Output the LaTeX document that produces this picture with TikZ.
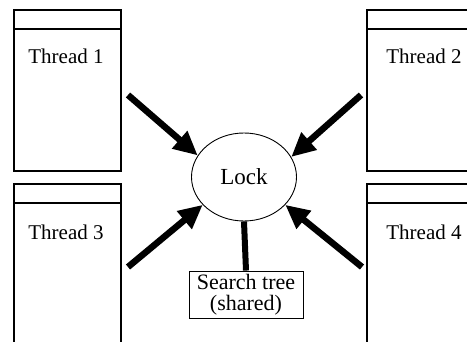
\documentclass[tikz,border=0pt]{standalone}
\usepackage{fontspec}
\setmainfont{Liberation Serif}
\usetikzlibrary{shapes.geometric,arrows.meta}
\tikzset{
  boxline/.style={line width=1.3pt},
  thick arrow/.style={line width=6.5pt,-{Triangle[length=24pt,width=22pt]}},
  label text/.style={font=\fontsize{21}{23}\selectfont},
}
\begin{document}
\begin{tikzpicture}[x=1pt,y=-1pt]
\useasboundingbox (0,0) rectangle (467,342);
\begin{scope}
\clip (0,0) rectangle (467,342);
% thread boxes
\draw[boxline] (14,10) rectangle (121,171);
\draw[boxline] (14,29) -- (121,29);
\draw[boxline] (367,10) rectangle (480,171);
\draw[boxline] (367,29) -- (480,29);
\draw[boxline] (14,184) rectangle (121,360);
\draw[boxline] (14,203) -- (121,203);
\draw[boxline] (367,184) rectangle (480,360);
\draw[boxline] (367,203) -- (480,203);
\end{scope}
\node[label text] (t1) at (66,56) {Thread 1};
\node[label text] (t2) at (424,56) {Thread 2};
\node[label text] (t3) at (66,232) {Thread 3};
\node[label text] (t4) at (424,232) {Thread 4};
\node[ellipse,draw,line width=0.9pt,minimum width=105pt,minimum height=88pt,inner sep=0pt,font=\fontsize{23}{25}\selectfont] (lock) at (244,177) {Lock};
\node[draw,line width=0.9pt,minimum width=114pt,minimum height=47pt,inner sep=0pt,align=center,font=\fontsize{22}{21}\selectfont] (tree) at (246,294.5) {Search tree\\(shared)};
\coordinate (s1) at (128,95);
\coordinate (s2) at (361,95);
\coordinate (s3) at (128,267);
\coordinate (s4) at (362,267);
\draw[thick arrow] (s1) -- (lock.155);
\draw[thick arrow] (s2) -- (lock.23);
\draw[thick arrow] (s3) -- (lock.-146);
\draw[thick arrow] (s4) -- (lock.-34);
\draw[line width=6pt] (lock.south) -- (tree.north);
\end{tikzpicture}
\end{document}
